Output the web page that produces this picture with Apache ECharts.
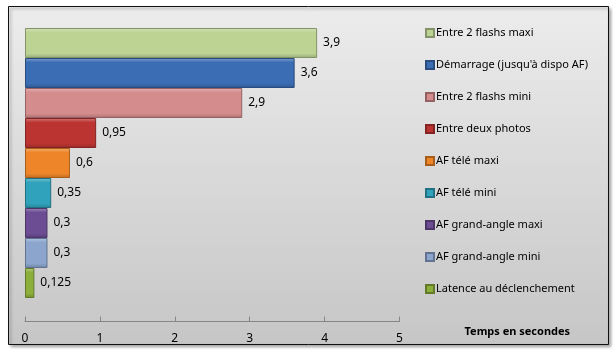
<!DOCTYPE html>
<html><head><meta charset="utf-8">
<script src="https://cdn.jsdelivr.net/npm/echarts@6/dist/echarts.min.js"></script>
<style>html,body{margin:0;padding:0;background:#fff}#c{width:615px;height:357px}</style>
</head><body><div id="c"></div>
<script>
const seriesNames = ["Entre 2 flashs maxi","Démarrage (jusqu'à dispo AF)","Entre 2 flashs mini","Entre deux photos","AF télé maxi","AF télé mini","AF grand-angle maxi","AF grand-angle mini","Latence au déclenchement"];
const seriesValues = [3.9, 3.6, 2.9, 0.95, 0.6, 0.35, 0.3, 0.3, 0.125];
const seriesColors = ["#bcd394","#3a6db3","#d48c8c","#bb3432","#ee8629","#30a2bb","#6c4c93","#8ba5cd","#8caf3b"];
const xTicks = [0,1,2,3,4,5];
const axisTitle = "Temps en secondes";

function shade(hex, f){
  const n=parseInt(hex.slice(1),16);let r=n>>16,g=(n>>8)&255,b=n&255;
  if(f>0){r=r+(255-r)*f;g=g+(255-g)*f;b=b+(255-b)*f;}else{r=r*(1+f);g=g*(1+f);b=b*(1+f);}
  return 'rgb('+Math.round(r)+','+Math.round(g)+','+Math.round(b)+')';
}
const font = "'Noto Sans', sans-serif";
const chart = echarts.init(document.getElementById('c'), null, {renderer:'canvas'});
const series = seriesNames.map((name,i)=>({
  name, type:'bar', data:[seriesValues[i]],
  barGap:'0%', barCategoryGap:'0%',
  itemStyle:{
    color:new echarts.graphic.LinearGradient(0,0,0,1,[
      {offset:0,color:shade(seriesColors[i],0.35)},
      {offset:0.15,color:seriesColors[i]},
      {offset:0.85,color:seriesColors[i]},
      {offset:1,color:shade(seriesColors[i],-0.2)}]),
    borderColor:shade(seriesColors[i],-0.3), borderWidth:1
  },
  label:{show:true, position:'right', distance:6, color:'#000', fontSize:12, fontFamily:font,
    formatter:p=>String(p.value).replace('.',',')}
}));
chart.setOption({
  animation:false,
  graphic:[{type:'rect', left:8, top:6, z:-10, shape:{width:600, height:338},
    style:{fill:new echarts.graphic.LinearGradient(0,0,0,1,[{offset:0,color:'#ececec'},{offset:1,color:'#c6c6c6'}]),
    stroke:'#111', lineWidth:1, shadowColor:'rgba(0,0,0,0.35)', shadowBlur:3, shadowOffsetX:2, shadowOffsetY:2}}],
  grid:{left:25, right:215.5, top:28, bottom:59, containLabel:false},
  xAxis:{type:'value', min:0, max:5, interval:1, offset:23.5,
    axisLine:{show:true, lineStyle:{color:'#868686'}},
    axisTick:{show:true, inside:true, length:5, lineStyle:{color:'#868686'}},
    splitLine:{show:false},
    axisLabel:{color:'#000', fontSize:12, fontFamily:font, margin:11},
    name:axisTitle, nameLocation:'end', nameGap:65,
    nameTextStyle:{fontWeight:'bold', fontSize:11, fontFamily:font, color:'#000', align:'left', verticalAlign:'top', padding:[5,0,0,0]}
  },
  yAxis:{type:'category', inverse:true, data:[''], show:false},
  legend:{orient:'vertical', left:420, top:21, itemWidth:8, itemHeight:8, itemGap:18,
    icon:'rect', textStyle:{fontSize:11, fontFamily:font, color:'#000', padding:[0,0,0,-3], lineHeight:14},
    data:seriesNames},
  series
});
</script></body></html>
